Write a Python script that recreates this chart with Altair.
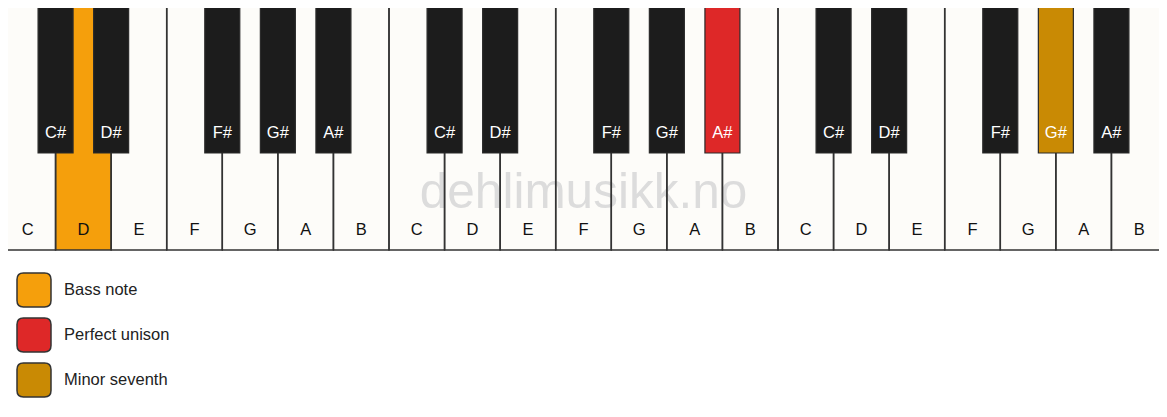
import altair as alt
import pandas as pd

# Keyboard: three octaves, C to B
white_keys = ['C', 'D', 'E', 'F', 'G', 'A', 'B'] * 3
black_keys = ['C#', 'D#', 'F#', 'G#', 'A#'] * 3
# boundary (in white-key units) where each black key sits
black_slots = [1, 2, 4, 5, 6, 8, 9, 11, 12, 13, 15, 16, 18, 19, 20]

# highlighted keys: (keyboard index, role)
white_highlights = {1: 'Bass note'}
black_highlights = {9: 'Perfect unison', 13: 'Minor seventh'}

roles = ['Bass note', 'Perfect unison', 'Minor seventh']
role_colors = ['#f59f0c', '#de2828', '#c98a04']

# layout constants (reference pixels)
PAGE_W, PAGE_H, MARGIN = 1167, 417, 8
KEY_W = PAGE_W / len(white_keys)
WHITE_H, BLACK_H = 250, 153
BLACK_W = 35 / KEY_W

white_df = pd.DataFrame({
    'note': white_keys,
    'x': range(len(white_keys)),
})
white_df['x2'] = white_df['x'] + 1
white_df['xc'] = white_df['x'] + 0.5
white_df['top'] = 0
white_df['bottom'] = WHITE_H
white_df['label_y'] = 230
white_df['role'] = [white_highlights.get(i, 'white') for i in range(len(white_keys))]

black_df = pd.DataFrame({
    'note': black_keys,
    'xc': black_slots,
})
black_df['x'] = black_df['xc'] - BLACK_W / 2
black_df['x2'] = black_df['xc'] + BLACK_W / 2
black_df['top'] = 0
black_df['bottom'] = BLACK_H
black_df['label_y'] = 133
black_df['role'] = [black_highlights.get(i, 'black') for i in range(len(black_keys))]

# the page margin eats 8px on every side, so show the reference's inner window
x_scale = alt.Scale(domain=[MARGIN / KEY_W, (PAGE_W - MARGIN) / KEY_W], nice=False, zero=False)
y_scale = alt.Scale(domain=[MARGIN, PAGE_H - MARGIN], reverse=True, nice=False, zero=False)

color_scale = alt.Scale(domain=roles + ['white', 'black'],
                        range=role_colors + ['#fdfcf9', '#1c1c1c'])

rounded_square = ('M -0.62 -1 L 0.62 -1 Q 1 -1 1 -0.62 L 1 0.62 Q 1 1 0.62 1 '
                  'L -0.62 1 Q -1 1 -1 0.62 L -1 -0.62 Q -1 -1 -0.62 -1 Z')

legend = alt.Legend(
    title=None, values=roles, orient='none', legendX=8, legendY=264,
    symbolType=rounded_square, symbolSize=1156, symbolStrokeColor='#333333',
    symbolStrokeWidth=1.5, labelFontSize=16.5, labelColor='#222222',
    labelFont='Liberation Sans', labelOffset=12, rowPadding=5, padding=0,
)

X = lambda f: alt.X(f'{f}:Q', scale=x_scale, axis=None)
Y = lambda f: alt.Y(f'{f}:Q', scale=y_scale, axis=None)

white_fill = alt.Chart(white_df).mark_rect(clip=True).encode(
    x=X('x'), x2='x2', y=Y('top'), y2='bottom',
    color=alt.Color('role:N', scale=color_scale, legend=legend),
)

# watermark sits under the key outlines
watermark = alt.Chart(pd.DataFrame({'t': ['dehlimusikk.no'], 'x': [10.5], 'y': [208]})).mark_text(
    fontSize=49.5, font='Liberation Sans', color='#dcdcdc', baseline='alphabetic'
).encode(x=X('x'), y=Y('y'), text='t:N')

white_outline = alt.Chart(white_df).mark_rect(
    fillOpacity=0, stroke='#333333', strokeWidth=1.5, clip=True
).encode(x=X('x'), x2='x2', y=Y('top'), y2='bottom')

white_labels = alt.Chart(white_df).mark_text(
    fontSize=16.5, font='Liberation Sans', color='#111111', baseline='middle'
).encode(x=X('xc'), y=Y('label_y'), text='note:N')

black_rects = alt.Chart(black_df).mark_rect(
    stroke='#2a2a2a', strokeWidth=1.2, clip=True
).encode(
    x=X('x'), x2='x2', y=Y('top'), y2='bottom',
    color=alt.Color('role:N', scale=color_scale, legend=legend),
)

black_labels = alt.Chart(black_df).mark_text(
    fontSize=16.5, font='Liberation Sans', color='#ffffff', baseline='middle'
).encode(x=X('xc'), y=Y('label_y'), text='note:N')

chart = alt.layer(
    white_fill, watermark, white_outline, white_labels, black_rects, black_labels
).properties(
    width=PAGE_W - 2 * MARGIN, height=PAGE_H - 2 * MARGIN,
    autosize=alt.AutoSizeParams(type='none'), padding=0, background='white',
).configure_view(stroke=None)

chart.save("out.html", embed_options={"renderer": "svg", "actions": False})
